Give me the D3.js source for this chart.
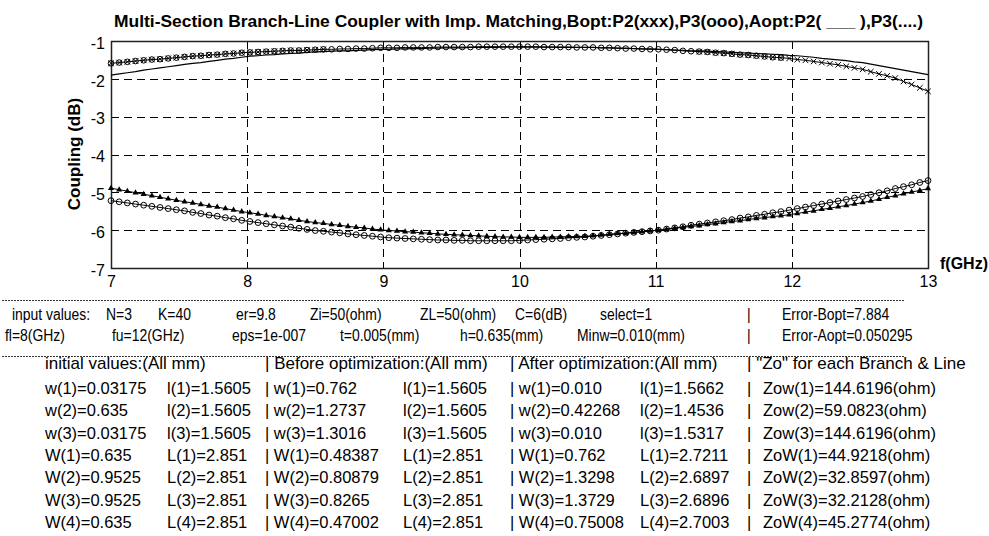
<!DOCTYPE html>
<html><head><meta charset="utf-8">
<script src="https://cdn.jsdelivr.net/npm/d3@7"></script>
<style>
html,body{margin:0;padding:0;background:#fff;}
svg{display:block;}
text{font-family:Arial,"Liberation Sans",sans-serif;fill:#000;white-space:pre;}
</style></head><body>
<svg id="chart" width="989" height="536"></svg>
<script>
// ---------------- data ----------------
const freqGHz = [7.00,7.06,7.12,7.18,7.24,7.30,7.36,7.42,7.48,7.54,7.60,7.66,7.72,7.78,7.84,7.90,7.96,
  8.02,8.08,8.14,8.20,8.26,8.32,8.38,8.44,8.50,8.56,8.62,8.68,8.74,8.80,8.86,8.92,8.98,
  9.04,9.10,9.16,9.22,9.28,9.34,9.40,9.46,9.52,9.58,9.64,9.70,9.76,9.82,9.88,9.94,
  10.00,10.06,10.12,10.18,10.24,10.30,10.36,10.42,10.48,10.54,10.60,10.66,10.72,10.78,10.84,10.90,10.96,
  11.02,11.08,11.14,11.20,11.26,11.32,11.38,11.44,11.50,11.56,11.62,11.68,11.74,11.80,11.86,11.92,11.98,
  12.04,12.10,12.16,12.22,12.28,12.34,12.40,12.46,12.52,12.58,12.64,12.70,12.76,12.82,12.88,12.94,13.00];

// Before optimization, port 2 (xxx)
const p2Before = [-1.59,-1.57,-1.55,-1.53,-1.51,-1.49,-1.48,-1.46,-1.44,-1.42,-1.40,-1.39,-1.37,-1.36,-1.34,-1.33,-1.31,
  -1.30,-1.29,-1.28,-1.27,-1.26,-1.25,-1.25,-1.24,-1.23,-1.22,-1.22,-1.21,-1.21,-1.20,-1.20,-1.19,-1.18,
  -1.18,-1.18,-1.17,-1.17,-1.17,-1.17,-1.16,-1.16,-1.16,-1.16,-1.16,-1.15,-1.15,-1.15,-1.15,-1.15,
  -1.15,-1.15,-1.15,-1.16,-1.16,-1.16,-1.16,-1.17,-1.17,-1.17,-1.18,-1.18,-1.19,-1.20,-1.20,-1.21,-1.22,
  -1.22,-1.23,-1.24,-1.26,-1.27,-1.28,-1.29,-1.31,-1.32,-1.34,-1.36,-1.37,-1.39,-1.41,-1.43,-1.44,-1.46,
  -1.49,-1.51,-1.54,-1.57,-1.60,-1.63,-1.67,-1.71,-1.75,-1.81,-1.87,-1.92,-1.98,-2.07,-2.15,-2.24,-2.33];

// Before optimization, port 3 (ooo)
const p3Before = [-5.22,-5.25,-5.28,-5.31,-5.34,-5.37,-5.40,-5.43,-5.46,-5.49,-5.53,-5.56,-5.60,-5.63,-5.67,-5.70,-5.74,
  -5.77,-5.80,-5.83,-5.86,-5.89,-5.92,-5.95,-5.98,-6.01,-6.03,-6.05,-6.07,-6.10,-6.12,-6.14,-6.16,-6.18,
  -6.20,-6.21,-6.22,-6.23,-6.24,-6.25,-6.26,-6.26,-6.27,-6.27,-6.28,-6.28,-6.28,-6.28,-6.28,-6.28,
  -6.27,-6.26,-6.25,-6.24,-6.23,-6.22,-6.20,-6.19,-6.18,-6.16,-6.14,-6.12,-6.10,-6.08,-6.06,-6.04,-6.02,
  -6.00,-5.97,-5.94,-5.91,-5.87,-5.84,-5.81,-5.78,-5.75,-5.72,-5.68,-5.65,-5.61,-5.58,-5.54,-5.51,-5.47,
  -5.43,-5.39,-5.35,-5.31,-5.27,-5.23,-5.19,-5.15,-5.11,-5.06,-5.01,-4.96,-4.90,-4.85,-4.80,-4.74,-4.69];

// After optimization, port 2 (solid)
const p2After = [-1.90,-1.87,-1.84,-1.81,-1.77,-1.74,-1.71,-1.68,-1.65,-1.62,-1.59,-1.57,-1.54,-1.51,-1.48,-1.46,-1.43,
  -1.40,-1.39,-1.37,-1.36,-1.34,-1.33,-1.32,-1.30,-1.29,-1.28,-1.27,-1.26,-1.26,-1.25,-1.24,-1.23,-1.22,
  -1.22,-1.21,-1.21,-1.20,-1.20,-1.19,-1.19,-1.18,-1.18,-1.18,-1.17,-1.17,-1.17,-1.17,-1.16,-1.16,
  -1.16,-1.16,-1.16,-1.16,-1.16,-1.17,-1.17,-1.17,-1.17,-1.17,-1.18,-1.18,-1.19,-1.19,-1.20,-1.21,-1.21,
  -1.22,-1.23,-1.24,-1.25,-1.26,-1.26,-1.27,-1.28,-1.29,-1.30,-1.31,-1.32,-1.33,-1.34,-1.35,-1.36,-1.38,
  -1.39,-1.41,-1.43,-1.46,-1.48,-1.50,-1.52,-1.55,-1.57,-1.61,-1.65,-1.69,-1.73,-1.77,-1.81,-1.85,-1.89];

// After optimization, port 3 (....)
const p3After = [-4.89,-4.93,-4.97,-5.01,-5.05,-5.09,-5.13,-5.17,-5.21,-5.25,-5.28,-5.32,-5.36,-5.39,-5.43,-5.47,-5.51,
  -5.54,-5.57,-5.61,-5.64,-5.67,-5.70,-5.74,-5.77,-5.80,-5.82,-5.85,-5.87,-5.90,-5.92,-5.94,-5.97,-5.99,
  -6.01,-6.02,-6.04,-6.05,-6.07,-6.08,-6.10,-6.11,-6.12,-6.13,-6.14,-6.15,-6.16,-6.17,-6.18,-6.18,
  -6.19,-6.19,-6.19,-6.19,-6.18,-6.18,-6.17,-6.17,-6.16,-6.15,-6.13,-6.11,-6.09,-6.08,-6.06,-6.04,-6.02,
  -6.00,-5.98,-5.95,-5.93,-5.90,-5.88,-5.85,-5.83,-5.80,-5.77,-5.75,-5.72,-5.69,-5.67,-5.64,-5.62,-5.59,
  -5.56,-5.52,-5.49,-5.45,-5.42,-5.38,-5.35,-5.31,-5.27,-5.23,-5.18,-5.13,-5.09,-5.04,-4.99,-4.95,-4.90];

const xTicks = [7, 8, 9, 10, 11, 12, 13];
const yTicks = [-1, -2, -3, -4, -5, -6, -7];
const titleText = "Multi-Section Branch-Line Coupler with Imp. Matching,Bopt:P2(xxx),P3(ooo),Aopt:P2( ___ ),P3(....)";
const yLabelText = "Coupling (dB)";
const xLabelText = "f(GHz)";

const inputRow1 = ["input values:", "N=3", "K=40", "er=9.8", "Zi=50(ohm)", "ZL=50(ohm)", "C=6(dB)", "select=1", "|", "Error-Bopt=7.884"];
const inputRow2 = ["fl=8(GHz)", "fu=12(GHz)", "eps=1e-007", "t=0.005(mm)", "h=0.635(mm)", "Minw=0.010(mm)", "|", "Error-Aopt=0.050295"];
const headerRow = ["initial values:(All mm)", "| Before optimization:(All mm)", "| After optimization:(All mm)", "| \"Zo\" for each Branch & Line"];
const initW  = ["w(1)=0.03175", "w(2)=0.635", "w(3)=0.03175", "W(1)=0.635", "W(2)=0.9525", "W(3)=0.9525", "W(4)=0.635"];
const initL  = ["l(1)=1.5605", "l(2)=1.5605", "l(3)=1.5605", "L(1)=2.851", "L(2)=2.851", "L(3)=2.851", "L(4)=2.851"];
const beforeW = ["| w(1)=0.762", "| w(2)=1.2737", "| w(3)=1.3016", "| W(1)=0.48387", "| W(2)=0.80879", "| W(3)=0.8265", "| W(4)=0.47002"];
const beforeL = ["l(1)=1.5605", "l(2)=1.5605", "l(3)=1.5605", "L(1)=2.851", "L(2)=2.851", "L(3)=2.851", "L(4)=2.851"];
const afterW = ["| w(1)=0.010", "| w(2)=0.42268", "| w(3)=0.010", "| W(1)=0.762", "| W(2)=1.3298", "| W(3)=1.3729", "| W(4)=0.75008"];
const afterL = ["l(1)=1.5662", "l(2)=1.4536", "l(3)=1.5317", "L(1)=2.7211", "L(2)=2.6897", "L(3)=2.6896", "L(4)=2.7003"];
const zoValues = ["Zow(1)=144.6196(ohm)", "Zow(2)=59.0823(ohm)", "Zow(3)=144.6196(ohm)", "ZoW(1)=44.9218(ohm)", "ZoW(2)=32.8597(ohm)", "ZoW(3)=32.2128(ohm)", "ZoW(4)=45.2774(ohm)"];

// ---------------- layout ----------------
const plot = {left: 111, right: 928, top: 41, bottom: 268};
const svg = d3.select("#chart");
const x = d3.scaleLinear().domain([7, 13]).range([plot.left, plot.right]);
const y = d3.scaleLinear().domain([-7, -1]).range([plot.bottom, plot.top]);

// grid
const grid = svg.append("g");
grid.selectAll("line.v").data(xTicks.slice(1, -1)).join("line")
  .attr("x1", d => Math.round(x(d)) + 0.5).attr("x2", d => Math.round(x(d)) + 0.5)
  .attr("y1", plot.top).attr("y2", plot.bottom)
  .attr("stroke", "#000").attr("stroke-width", 1).attr("stroke-dasharray", "8,5");
grid.selectAll("line.h").data(yTicks.slice(1, -1)).join("line")
  .attr("y1", d => Math.round(y(d)) + 0.5).attr("y2", d => Math.round(y(d)) + 0.5)
  .attr("x1", plot.left).attr("x2", plot.right)
  .attr("stroke", "#000").attr("stroke-width", 1).attr("stroke-dasharray", "8,5");

// axes (labels only)
const fmt = d => String(d);
const xAxis = svg.append("g").attr("transform", `translate(0,${plot.bottom})`)
  .call(d3.axisBottom(x).tickValues(xTicks).tickSize(0).tickPadding(8).tickFormat(fmt));
const yAxis = svg.append("g").attr("transform", `translate(${plot.left},0)`)
  .call(d3.axisLeft(y).tickValues(yTicks).tickSize(0).tickPadding(6).tickFormat(fmt));
[xAxis, yAxis].forEach(a => {
  a.select(".domain").remove();
  a.selectAll("text").attr("font-size", 16).attr("font-family", "Arial, 'Liberation Sans', sans-serif").attr("fill", "#000");
});
yAxis.selectAll("text").attr("dy", "0.45em");

// frame
svg.append("rect").attr("x", plot.left + 0.5).attr("y", plot.top + 0.5)
  .attr("width", plot.right - plot.left).attr("height", plot.bottom - plot.top)
  .attr("fill", "none").attr("stroke", "#222").attr("stroke-width", 1.5);

// curves
const line = d3.line().x((d, i) => x(freqGHz[i])).y(d => y(d));
const curves = svg.append("g").attr("fill", "none").attr("stroke", "#000").attr("stroke-width", 1);
curves.append("path").attr("d", line(p2After)).attr("stroke-width", 1.2);
curves.append("path").attr("d", line(p2Before));
curves.append("path").attr("d", line(p3Before));
curves.append("path").attr("d", line(p3After));

const pts = arr => arr.map((v, i) => ({f: freqGHz[i], v}));
// x markers
const cross = "M-2.8,-2.8L2.8,2.8M-2.8,2.8L2.8,-2.8";
svg.append("g").selectAll("path").data(pts(p2Before).filter(d => d.f < 8.6 || d.f > 11.3)).join("path")
  .attr("transform", d => `translate(${x(d.f)},${y(d.v)})`)
  .attr("d", cross).attr("stroke", "#000").attr("stroke-width", 1).attr("fill", "none");
// circle markers riding on the upper curve
svg.append("g").selectAll("circle").data(pts(p2Before).filter(d => d.f < 11.95)).join("circle")
  .attr("cx", d => x(d.f)).attr("cy", d => y(d.v)).attr("r", 2.8)
  .attr("fill", "none").attr("stroke", "#000").attr("stroke-width", 1);
// open circles (P3 before)
svg.append("g").selectAll("circle").data(pts(p3Before)).join("circle")
  .attr("cx", d => x(d.f)).attr("cy", d => y(d.v)).attr("r", 2.9)
  .attr("fill", "none").attr("stroke", "#000").attr("stroke-width", 1);
// filled markers (P3 after)
const tri = d3.symbol(d3.symbolTriangle, 16);
svg.append("g").selectAll("path").data(pts(p3After)).join("path")
  .attr("transform", d => `translate(${x(d.f)},${y(d.v)})`)
  .attr("d", tri).attr("fill", "#000");

// titles
svg.append("text").attr("x", 518.5).attr("y", 27).attr("text-anchor", "middle")
  .attr("font-size", 17).attr("font-weight", "bold")
  .attr("textLength", 809).attr("lengthAdjust", "spacingAndGlyphs").text(titleText);
svg.append("text").attr("transform", "translate(80,154) rotate(-90)").attr("text-anchor", "middle")
  .attr("font-size", 17).attr("font-weight", "bold").text(yLabelText);
svg.append("text").attr("x", 940).attr("y", 269).attr("font-size", 16).attr("font-weight", "bold").text(xLabelText);

// separators
const sep = [300.5, 356.5];
svg.append("g").selectAll("line").data(sep).join("line")
  .attr("x1", 2).attr("x2", 905).attr("y1", d => d).attr("y2", d => d)
  .attr("stroke", "#333").attr("stroke-width", 1).attr("stroke-dasharray", "2,1");

// table text
const T = svg.append("g");
function row(texts, xs, yb, size, squeeze) {
  texts.forEach((t, i) => {
    const el = T.append("text").attr("x", xs[i]).attr("y", yb).attr("font-size", size).text(t);
    if (squeeze && squeeze !== 1) {
      const w = el.node().getComputedTextLength();
      el.attr("textLength", w * squeeze).attr("lengthAdjust", "spacingAndGlyphs");
    }
  });
}
row(inputRow1, [12, 106, 158, 236, 310, 420, 515, 600, 747, 782], 320, 16, 0.87);
row(inputRow2, [5, 112, 232, 340, 460, 577, 747, 782], 341, 16, 0.87);
row(headerRow, [45, 265, 510, 747], 369, 17, 1);
const rowY0 = 394, rowDY = 22.33;
initW.forEach((t, i) => {
  const yb = rowY0 + i * rowDY;
  row([initW[i], initL[i], beforeW[i], beforeL[i], afterW[i], afterL[i], "|", zoValues[i]],
      [45, 167, 265, 403, 510, 640, 747, 763], yb, 16.5, 1);
});
</script>
</body></html>
